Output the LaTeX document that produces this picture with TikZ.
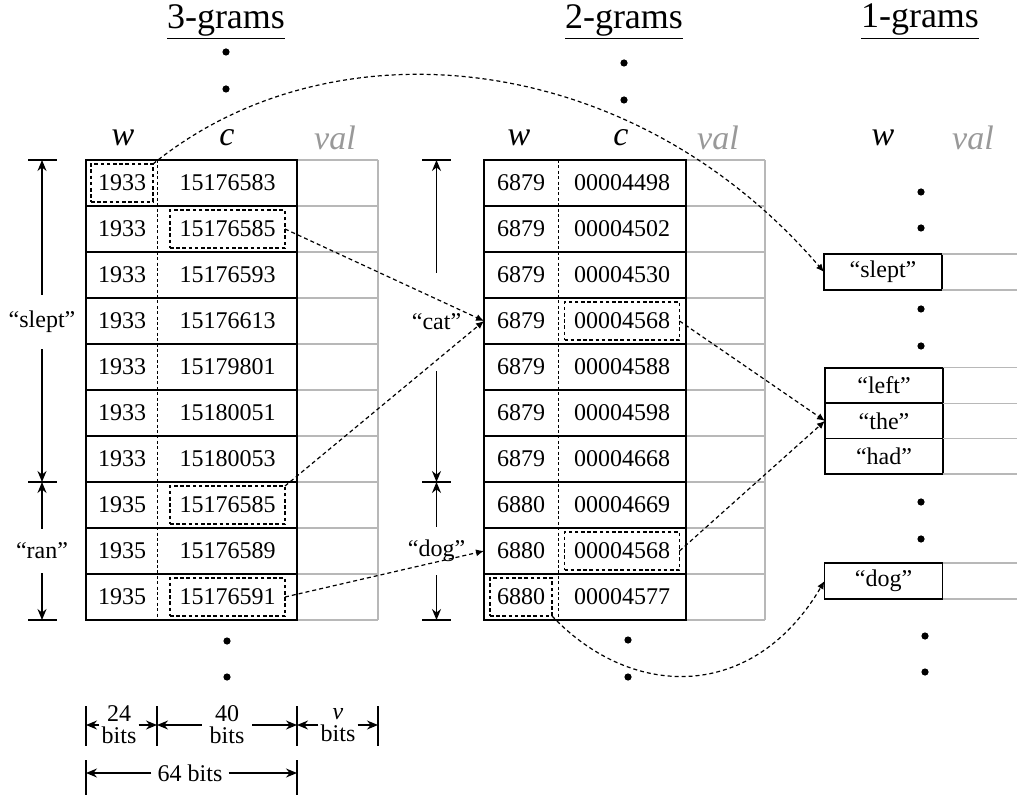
\documentclass[tikz,border=0pt]{standalone}
\usepackage{fontspec}
\setmainfont{Liberation Serif}
\usetikzlibrary{positioning,arrows.meta}
\definecolor{valG}{gray}{0.72}
\definecolor{valT}{gray}{0.6}

\begin{document}
\begin{tikzpicture}[x=0.5pt, y=-0.5pt,
	font=\fontsize{12}{14}\selectfont,
	Frame/.style={line width=0.8pt},
	ValLine/.style={valG, line width=0.6pt},
	Divider/.style={line width=0.45pt, dash pattern=on 1.5pt off 1.2pt},
	Cell/.style={inner sep=0pt, minimum height=19pt, outer sep=0pt},
	WCell/.style={Cell, minimum width=31pt},
	CCell/.style={Cell, minimum width=57.5pt},
	HiBox/.style={draw, line width=0.55pt, dash pattern=on 1.8pt off 1.3pt},
	Plain/.style={},
	Ptr/.style={line width=0.6pt, dash pattern=on 2pt off 1.5pt, -{Latex[length=4pt,width=3.5pt]}},
	Span/.style={line width=0.7pt, -{Stealth[length=5.5pt,width=4.5pt]}},
	Tick/.style={line width=0.6pt},
	Head/.style={font=\fontsize{17}{17}\selectfont\itshape},
	Title/.style={font=\fontsize{18}{18}\selectfont},
	Dot/.style={fill, circle, inner sep=0pt, minimum size=3.6pt},
	Word/.style={draw, line width=0.8pt, minimum width=59pt, minimum height=18pt, inner sep=0pt, outer sep=0pt},
	Bits/.style={align=center, inner sep=1pt, font=\fontsize{12}{11}\selectfont},
	]
	\useasboundingbox (0,0) rectangle (1017,796);

	% 3-grams
	\node[Title] (t3) at (226,22) {\underline{3-grams}};
	\node[Head] (h3w) at (123,138) {w};
	\node[Head] (h3c) at (227,138) {c};
	\node[Head, valT] (h3v) at (335,138) {val};
	\foreach \y in {160,206,...,620} \draw[ValLine] (297,\y) -- (378,\y);
	\draw[ValLine] (378,160) -- (378,620);
	\foreach \y in {206,252,...,574} \draw[Frame] (86,\y) -- (297,\y);
	\draw[Frame] (86,160) rectangle (297,620);
	\draw[Divider] (157.5,160) -- (157.5,620);
	\foreach \w/\c/\sw/\sc [count=\i] in {1933/15176583/HiBox/Plain, 1933/15176585/Plain/HiBox,
		1933/15176593/Plain/Plain, 1933/15176613/Plain/Plain, 1933/15179801/Plain/Plain,
		1933/15180051/Plain/Plain, 1933/15180053/Plain/Plain, 1935/15176585/Plain/HiBox,
		1935/15176589/Plain/Plain, 1935/15176591/Plain/HiBox}
	{
		\node[WCell,\sw] (tw\i) at (122,137+46*\i) {\w};
		\node[CCell,\sc] (tc\i) at (227.5,137+46*\i) {\c};
	}

	% 2-grams
	\node[Title] (t2) at (624,22) {\underline{2-grams}};
	\node[Head] (h2w) at (519,138) {w};
	\node[Head] (h2c) at (621,138) {c};
	\node[Head, valT] (h2v) at (718,138) {val};
	\foreach \y in {160,206,...,620} \draw[ValLine] (686,\y) -- (765,\y);
	\draw[ValLine] (765,160) -- (765,620);
	\foreach \y in {206,252,...,574} \draw[Frame] (484,\y) -- (686,\y);
	\draw[Frame] (484,160) rectangle (686,620);
	\draw[Divider] (558,160) -- (558,620);
	\foreach \w/\c/\sw/\sc [count=\i] in {6879/00004498/Plain/Plain, 6879/00004502/Plain/Plain,
		6879/00004530/Plain/Plain, 6879/00004568/Plain/HiBox, 6879/00004588/Plain/Plain,
		6879/00004598/Plain/Plain, 6879/00004668/Plain/Plain, 6880/00004669/Plain/Plain,
		6880/00004568/Plain/HiBox, 6880/00004577/HiBox/Plain}
	{
		\node[WCell,\sw] (bw\i) at (521,137+46*\i) {\w};
		\node[CCell,\sc] (bc\i) at (622,137+46*\i) {\c};
	}

	% 1-grams
	\node[Title] (t1) at (920,22) {\underline{1-grams}};
	\node[Head] (h1w) at (883,138) {w};
	\node[Head, valT] (h1v) at (973,138) {val};
	\node[Word] (uslept) at (883,272) {“slept”};
	\node[Word, minimum height=17.7pt] (uleft) at (884,385.5) {“left”};
	\node[Word, minimum height=17.7pt, below=0pt of uleft] (uthe) {“the”};
	\node[Word, minimum height=17.7pt, below=0pt of uthe] (uhad) {“had”};
	\node[Word] (udog) at (883.5,581) {“dog”};
	\foreach \n in {uslept,uleft,uthe,uhad,udog}
		\draw[ValLine] (\n.north east) -- +(80,0) (\n.south east) -- +(80,0);

	\foreach \x/\y [count=\k] in {226/52, 226/89, 227/641, 227/677, 624/63, 624/100, 628/640, 628/677,
		921/192, 921/228, 921/309, 921/346, 921/502, 921/539, 925/636, 925/672}
		\node[Dot] (dot\k) at (\x,\y) {};

	% spans
	\foreach \y in {160,482,620} \draw[Frame] (28,\y) -- (57,\y);
	\foreach \y in {160,482,620} \draw[Frame] (422,\y) -- (451,\y);
	\coordinate (s3a) at (42,160);
	\coordinate (s3b) at (42,482);
	\coordinate (s3c) at (42,620);
	\coordinate (s2a) at (436.5,160);
	\coordinate (s2b) at (436.5,482);
	\coordinate (s2c) at (436.5,620);
	\node[minimum height=27pt, inner sep=0pt] (lslept) at (42,322) {“slept”};
	\node[minimum height=22pt, inner sep=0pt] (lran) at (42,551) {“ran”};
	\node[minimum height=49pt, inner sep=0pt] (lcat) at (436.5,322) {“cat”};
	\node[minimum height=24pt, inner sep=0pt] (ldog) at (436.5,551) {“dog”};
	\draw[Span] (lslept.north) -- (s3a);
	\draw[Span] (lslept.south) -- (s3b);
	\draw[Span] (lran.north) -- (s3b);
	\draw[Span] (lran.south) -- (s3c);
	\draw[Span] (lcat.north) -- (s2a);
	\draw[Span] (lcat.south) -- (s2b);
	\draw[Span] (ldog.north) -- (s2b);
	\draw[Span] (ldog.south) -- (s2c);

	% bit widths
	\foreach \x in {86,157,297,378} \draw[Tick] (\x,706) -- (\x,746);
	\foreach \x in {86,297} \draw[Tick] (\x,760) -- (\x,795);
	\coordinate (k0) at (86,725);
	\coordinate (k1) at (157,725);
	\coordinate (k2) at (297,725);
	\coordinate (k3) at (378,725);
	\coordinate (k4) at (86,773);
	\coordinate (k5) at (297,773);
	\node[Bits] (b24) at (119,725) {24\\bits};
	\node[Bits, minimum width=25pt] (b40) at (227,725) {40\\bits};
	\node[Bits] (bv) at (338,725) {\textit{v}\\bits};
	\node[Bits, inner sep=3pt] (b64) at (190,773) {64 bits};
	\draw[Span] (b24.west) -- (k0);
	\draw[Span] (b24.east) -- (k1);
	\draw[Span] (b40.west) -- (k1);
	\draw[Span] (b40.east) -- (k2);
	\draw[Span] (bv.west) -- (k2);
	\draw[Span] (bv.east) -- (k3);
	\draw[Span] (b64.west) -- (k4);
	\draw[Span] (b64.east) -- (k5);

	% pointers
	\draw[Ptr] (tw1.north east) .. controls (330,20) and (630,46) .. (uslept.west);
	\draw[Ptr] (tc2.east) -- ([xshift=-3pt]bw4.west);
	\draw[Ptr] (tc8.north east) -- ([xshift=-3pt]bw4.west);
	\draw[Ptr] (tc10.east) -- ([xshift=-3pt]bw9.west);
	\draw[Ptr] (bc4.east) -- (uthe.west);
	\draw[Ptr] (bc9.east) -- (uthe.west);
	\draw[Ptr] (bw10.south east) .. controls (633,701) and (754,701) .. (udog.west);
\end{tikzpicture}
\end{document}
